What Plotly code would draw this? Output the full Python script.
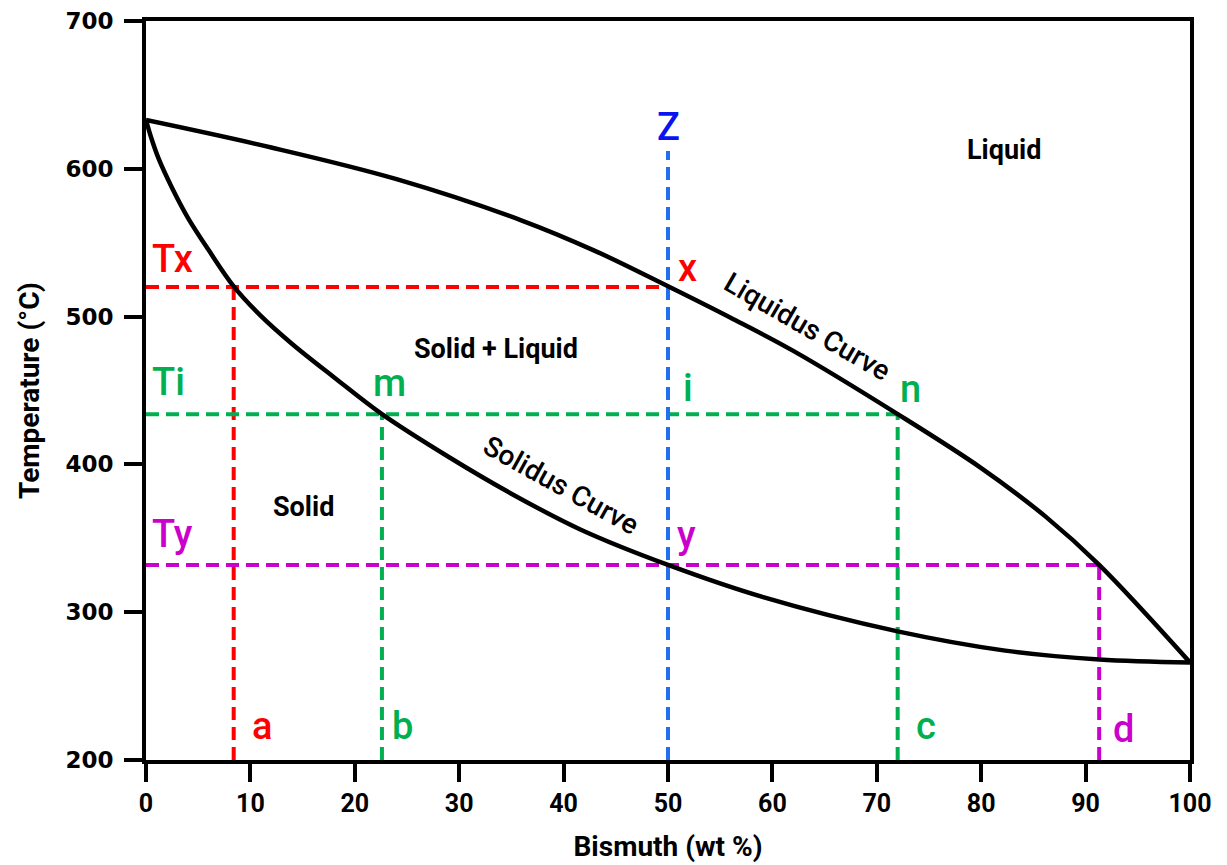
import plotly.graph_objects as go

# ---- data ----
liquidus_x = [0, 12, 24, 36, 43, 50, 56, 62, 72, 80, 86.2, 91.3, 100]
liquidus_y = [633, 614.4, 593, 565, 544.5, 520.5, 499.2, 476.8, 434, 397.5, 364.5, 332, 266]

solidus_x = [0, 0.5, 1.2, 2.5, 4.0, 6.0, 8.4, 11, 14, 18, 22.6, 29, 35.3, 41.6, 50, 59.2, 72, 82.3, 91.3, 100]
solidus_y = [633, 621, 607, 587, 567, 545, 520.5, 500.5, 481.5, 459, 434, 405, 379, 356, 332, 310, 287, 274, 268, 266]

Tx, Ti, Ty = 520, 434, 332          # temperatures of the tie lines
comp_z = 50                          # overall composition Z
comp_a, comp_b, comp_c, comp_d = 8.4, 22.6, 72, 91.3
z_top = 612

x_ticks = [0, 10, 20, 30, 40, 50, 60, 70, 80, 90, 100]
y_ticks = [200, 300, 400, 500, 600, 700]

RED = "#FF0000"
GREEN = "#00B050"
PURPLE = "#CC00CC"
BLUE = "#1F6FF0"
DASH = "13px,7px"

fig = go.Figure()

def seg(xs, ys, color):
    fig.add_trace(go.Scatter(x=xs, y=ys, mode="lines",
                             line=dict(color=color, width=4, dash=DASH),
                             hoverinfo="skip", showlegend=False))

# dashed construction lines
seg([0, comp_z], [Tx, Tx], RED)
seg([comp_a, comp_a], [200, Tx], RED)
seg([0, comp_c], [Ti, Ti], GREEN)
seg([comp_b, comp_b], [200, Ti], GREEN)
seg([comp_c, comp_c], [200, Ti], GREEN)
seg([0, comp_d], [Ty, Ty], PURPLE)
seg([comp_d, comp_d], [200, Ty], PURPLE)
seg([comp_z, comp_z], [200, z_top], BLUE)

# phase boundaries
for xs, ys in ((liquidus_x, liquidus_y), (solidus_x, solidus_y)):
    fig.add_trace(go.Scatter(x=xs, y=ys, mode="lines",
                             line=dict(color="black", width=4.5, shape="spline", smoothing=1.0),
                             hoverinfo="skip", showlegend=False))

LBL = "Roboto, Arial, sans-serif"

def label(x, y, text, color, size=38, angle=0, weight=500):
    fig.add_annotation(x=x, y=y, text=text, showarrow=False, textangle=angle,
                       font=dict(family=LBL, size=size, color=color, weight=weight))

label(2.5, 539, "Tx", RED)
label(51.9, 533, "x", RED)
label(2.2, 456, "Ti", GREEN)
label(23.3, 455, "m", GREEN)
label(51.9, 452, "i", GREEN)
label(73.2, 451, "n", GREEN)
label(2.5, 353, "Ty", PURPLE)
label(51.8, 352, "y", PURPLE)
label(50.0, 628, "Z", "#0A14F0")
label(11.1, 223, "a", RED)
label(24.6, 223, "b", GREEN)
label(74.7, 223, "c", GREEN)
label(93.6, 221, "d", PURPLE)

label(82.2, 613, "Liquid", "black", size=27, weight=700)
label(33.5, 478, "Solid + Liquid", "black", size=27, weight=700)
label(15.1, 371, "Solid", "black", size=27, weight=700)
label(63.3, 493, "Liquidus Curve", "black", size=28, angle=30, weight=500)
label(39.8, 386, "Solidus Curve", "black", size=28, angle=29, weight=500)

TITLE_FONT = dict(family="Roboto, Arial, sans-serif", size=28, color="black", weight="bold")

fig.update_xaxes(range=[0, 100], tickvals=x_ticks, ticks="outside", ticklen=18,
                 tickwidth=4, tickcolor="black", showline=True, linewidth=4,
                 linecolor="black", mirror=True, showgrid=False, zeroline=False,
                 automargin=False,
                 tickfont=dict(family="Roboto, Arial, sans-serif", size=25, color="black", weight="bold"),
                 title=dict(text="Bismuth (wt %)", standoff=20, font=TITLE_FONT))
fig.update_yaxes(range=[200, 700], tickvals=y_ticks, ticks="outside", ticklen=18,
                 tickwidth=4, tickcolor="black", showline=True, linewidth=4,
                 linecolor="black", mirror=True, showgrid=False, zeroline=False,
                 automargin=False, ticklabelstandoff=6,
                 tickfont=dict(family="DejaVu Sans, sans-serif", size=23,
                               color="black", weight="bold"),
                 title=dict(text="Temperature (°C)", standoff=19, font=TITLE_FONT))

fig.update_layout(width=1219, height=857, plot_bgcolor="white", paper_bgcolor="white",
                  margin=dict(l=138, r=37, t=13, b=105, autoexpand=False), showlegend=False)

fig.write_html("out.html")
